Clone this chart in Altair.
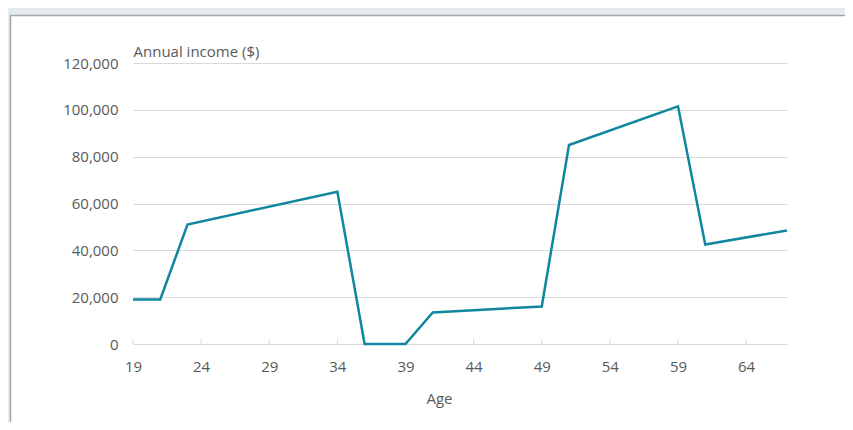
import altair as alt
import pandas as pd

# Data
ages = [19, 21, 23, 34, 36, 39, 41, 49, 51, 59, 61, 67]
incomes = [19000, 19000, 51000, 65000, 0, 0, 13500, 16000, 85000, 101500, 42500, 48500]
x_ticks = [19, 24, 29, 34, 39, 44, 49, 54, 59, 64]
y_ticks = [0, 20000, 40000, 60000, 80000, 100000, 120000]

df = pd.DataFrame({"age": ages, "income": incomes})
tick_df = pd.DataFrame({"age": x_ticks})

W, H = 654, 281
FONT = "Open Sans"
FS = 15
TXT = "#595959"
GRID = "#d9d9d9"
BAND = "#e5ecef"
BORDER = "#a6a6a6"

x_scale = alt.Scale(domain=[19, 67], nice=False, zero=False)
y_scale = alt.Scale(domain=[0, 120000], nice=False)

line = alt.Chart(df).mark_line(color="#10869f", strokeWidth=2.5).encode(
    x=alt.X("age:Q", scale=x_scale,
            axis=alt.Axis(values=x_ticks, format="d", title="Age", ticks=False, grid=False,
                          domain=True, domainColor=GRID, domainWidth=1, labelFlush=False,
                          labelPadding=15, labelFontSize=FS, labelFont=FONT, labelColor=TXT,
                          titleFont=FONT, titleFontSize=FS, titleColor=TXT, titleFontWeight="normal",
                          titleX=306, titleY=59, titleAlign="center", titleBaseline="alphabetic")),
    y=alt.Y("income:Q", scale=y_scale,
            axis=alt.Axis(values=y_ticks, format=",.0f", title="Annual income ($)",
                          ticks=False, domain=False, grid=True, gridColor=GRID, gridWidth=1,
                          labelPadding=15, labelFontSize=FS, labelFont=FONT, labelColor=TXT,
                          titleFont=FONT, titleFontSize=FS, titleColor=TXT, titleFontWeight="normal",
                          titleAngle=0, titleX=0, titleY=-7, titleAlign="left",
                          titleBaseline="alphabetic")),
)

# small inward tick marks on the x axis
ticks = alt.Chart(tick_df).mark_rule(color=GRID, strokeWidth=1).encode(
    x=alt.X("age:Q", scale=x_scale),
    y=alt.value(H - 5),
    y2=alt.value(H),
)

one = alt.Data(values=[{"a": 1}])
band_top = alt.Chart(one).mark_rect(color=BAND).encode(
    x=alt.value(-125), x2=alt.value(730), y=alt.value(-55), y2=alt.value(-48))
band_left = alt.Chart(one).mark_rect(color=BAND).encode(
    x=alt.value(-125), x2=alt.value(-123), y=alt.value(-55), y2=alt.value(380))
border_top = alt.Chart(one).mark_rule(color=BORDER, strokeWidth=1.5).encode(
    x=alt.value(-123), x2=alt.value(730), y=alt.value(-47.5))
border_left = alt.Chart(one).mark_rule(color=BORDER, strokeWidth=1.5).encode(
    x=alt.value(-122.5), y=alt.value(-48), y2=alt.value(380))

chart = alt.layer(band_top, band_left, border_top, border_left, ticks, line).properties(
    width=W, height=H,
    autosize=alt.AutoSizeParams(type="none"),
    padding={"left": 125, "top": 55, "right": 58, "bottom": 78},
    background="white",
).configure_view(stroke=None)

chart.save("out.html", embed_options={"renderer": "svg", "actions": False})
